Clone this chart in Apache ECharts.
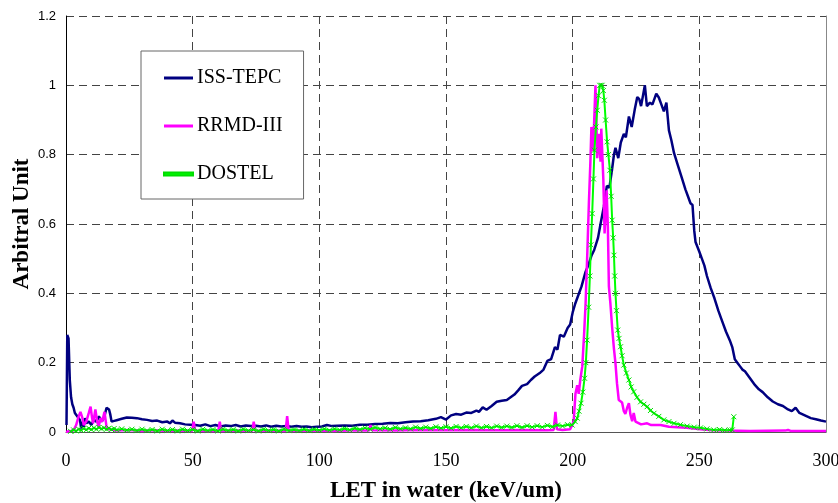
<!DOCTYPE html>
<html>
<head>
<meta charset="utf-8">
<script src="https://cdn.jsdelivr.net/npm/echarts@6/dist/echarts.min.js"></script>
<style>
  html, body { margin: 0; padding: 0; background: #fff; }
  #chart { width: 838px; height: 503px; }
</style>
</head>
<body>
<div id="chart"></div>
<script>
// LET values (keV/um) paired with arbitrary-unit intensity
var tepcPoints = [
  [0.2, 0.02], [0.5, 0.28], [1, 0.27], [1.5, 0.15], [2, 0.1], [2.5, 0.08], [3, 0.07], [3.5, 0.055],
  [4, 0.05], [4.5, 0.045], [5, 0.05], [5.5, 0.035], [6, 0.01], [6.5, 0.03], [7, 0.015], [7.5, 0.04],
  [8, 0.025], [9, 0.03], [10, 0.02], [11, 0.035], [12, 0.03], [13, 0.045], [14, 0.03], [15, 0.04],
  [16, 0.07], [17, 0.065], [17.5, 0.05], [18, 0.03], [19, 0.032], [20, 0.034], [22, 0.038], [24, 0.042],
  [26, 0.041], [28, 0.04], [30, 0.037], [32, 0.035], [34, 0.032], [36, 0.033], [38, 0.028], [40, 0.03],
  [41, 0.025], [42, 0.033], [43, 0.027], [45, 0.025], [47, 0.022], [49, 0.021], [51, 0.02], [53, 0.018],
  [55, 0.022], [57, 0.017], [59, 0.02], [61, 0.016], [63, 0.019], [65, 0.017], [67, 0.02], [69, 0.016],
  [71, 0.019], [73, 0.017], [75, 0.018], [77, 0.016], [79, 0.019], [81, 0.015], [83, 0.018], [85, 0.016],
  [87, 0.017], [89, 0.015], [91, 0.017], [93, 0.015], [95, 0.016], [97, 0.014], [99, 0.015], [101, 0.016],
  [103, 0.02], [105, 0.017], [107, 0.018], [110, 0.019], [113, 0.018], [116, 0.021], [119, 0.021], [122, 0.023],
  [125, 0.024], [128, 0.026], [131, 0.025], [134, 0.028], [137, 0.03], [140, 0.031], [143, 0.034], [146, 0.038],
  [148, 0.043], [150, 0.036], [152, 0.048], [154, 0.052], [156, 0.05], [158, 0.056], [160, 0.055], [162, 0.062],
  [163, 0.058], [164.5, 0.071], [166, 0.064], [168, 0.075], [170, 0.087], [172, 0.09], [174, 0.092], [175.5, 0.1],
  [177, 0.108], [178.5, 0.12], [180, 0.133], [182, 0.138], [183.5, 0.15], [185, 0.16], [187, 0.17], [188.5, 0.18],
  [190, 0.205], [191.5, 0.21], [193, 0.245], [194, 0.238], [195, 0.28], [196.5, 0.275], [198, 0.3], [199, 0.31],
  [200, 0.345], [201, 0.37], [202, 0.39], [203.5, 0.42], [205, 0.46], [206, 0.478], [207.5, 0.51], [208.5, 0.525],
  [210, 0.56], [211, 0.6], [212.3, 0.65], [213.5, 0.71], [214.5, 0.705], [215.5, 0.755], [216.3, 0.8], [216.9, 0.82],
  [218, 0.79], [219, 0.835], [220.2, 0.86], [221, 0.85], [222.2, 0.91], [223.3, 0.88], [224.5, 0.93], [225.5, 0.966],
  [226.3, 0.96], [227, 0.94], [228.5, 1.0], [229.3, 0.94], [230.5, 0.95], [231.5, 0.945], [233, 0.976], [234, 0.965],
  [235, 0.945], [236, 0.925], [237, 0.95], [238, 0.87], [239, 0.84], [240, 0.805], [241.5, 0.77], [243, 0.735],
  [244.5, 0.7], [245.5, 0.68], [246.5, 0.66], [247.3, 0.655], [248, 0.58], [248.5, 0.548], [250, 0.52], [251, 0.5],
  [252, 0.48], [253, 0.45], [254.5, 0.415], [256, 0.385], [257.5, 0.35], [259, 0.32], [260.5, 0.29], [262, 0.265],
  [263, 0.245], [264, 0.21], [265, 0.2], [266, 0.19], [267, 0.18], [268, 0.175], [269, 0.165], [270.5, 0.15],
  [272, 0.135], [273.5, 0.123], [275, 0.115], [277, 0.1], [279, 0.088], [281, 0.08], [283, 0.075], [285, 0.065],
  [286.5, 0.06], [288, 0.07], [289.5, 0.055], [291, 0.05], [292.5, 0.045], [294, 0.04], [296, 0.037], [298, 0.033],
  [300, 0.03]
];

var rrmdPoints = [
  [0, 0], [1, 0.002], [2, 0.003], [3, 0.005], [4, 0.02], [5, 0.045], [5.7, 0.058], [6.5, 0.04],
  [7, 0.02], [8, 0.03], [9, 0.055], [9.7, 0.073], [10.3, 0.04], [10.7, 0.025], [11.6, 0.065], [12.3, 0.03],
  [12.9, 0.015], [13.6, 0.04], [14.3, 0.03], [15.2, 0.058], [16, 0.015], [17, 0.008], [20, 0.004], [25, 0.006],
  [30, 0.003], [35, 0.005], [40, 0.003], [45, 0.004], [49.8, 0.003], [50.4, 0.03], [51, 0.004], [55, 0.003],
  [60.1, 0.003], [60.7, 0.03], [61.3, 0.003], [67, 0.004], [73.5, 0.003], [74.1, 0.03], [74.7, 0.003], [80, 0.004],
  [86.7, 0.003], [87.3, 0.046], [87.9, 0.003], [95, 0.004], [105, 0.003], [112, 0.004], [119.6, 0.004], [120.2, 0.02],
  [120.8, 0.005], [130, 0.004], [140, 0.006], [150, 0.005], [160, 0.006], [170, 0.005], [180, 0.006], [190, 0.005],
  [192.5, 0.006], [193.2, 0.058], [193.8, 0.008], [196, 0.006], [199, 0.008], [200.4, 0.03], [201.1, 0.11], [201.8, 0.135],
  [202.4, 0.11], [203, 0.15], [203.8, 0.19], [204.5, 0.28], [205.1, 0.37], [205.8, 0.52], [206.4, 0.66], [207, 0.78],
  [207.4, 0.88], [208.1, 0.81], [208.6, 0.92], [209, 1.0], [209.7, 0.79], [210.3, 0.86], [211, 0.78], [211.3, 0.875],
  [212.1, 0.73], [212.6, 0.573], [213.4, 0.697], [213.9, 0.59], [214.3, 0.42], [214.9, 0.37], [215.6, 0.3], [216.3, 0.24],
  [216.9, 0.198], [217.5, 0.14], [218.2, 0.092], [219.5, 0.085], [220.2, 0.06], [220.8, 0.052], [221.5, 0.07], [222.2, 0.083],
  [222.8, 0.05], [223.5, 0.031], [224.1, 0.055], [224.8, 0.03], [225.4, 0.03], [227, 0.022], [229.4, 0.025], [231, 0.02],
  [234.7, 0.02], [238, 0.015], [241.3, 0.014], [245, 0.012], [250.5, 0.008], [255, 0.005], [260, 0.004], [270, 0.003],
  [284, 0.004], [285, 0.006], [286, 0.003], [300, 0.003]
];

var dostelPoints = [
  [1.8, 0.002], [3, 0.006], [4, 0.003], [5, 0.008], [6, 0.005], [7, 0.01], [8, 0.006], [9, 0.011],
  [10, 0.007], [11, 0.012], [12, 0.008], [13, 0.013], [14, 0.009], [15, 0.012], [16, 0.008], [17, 0.011],
  [18, 0.007], [19, 0.01], [20, 0.006], [22, 0.009], [24, 0.005], [26, 0.008], [28, 0.004], [30, 0.008],
  [32, 0.004], [34, 0.007], [36, 0.003], [38, 0.008], [40, 0.004], [42, 0.007], [44, 0.003], [46, 0.008],
  [48, 0.004], [50, 0.007], [52, 0.003], [54, 0.008], [56, 0.004], [58, 0.007], [60, 0.003], [62, 0.008],
  [64, 0.004], [66, 0.007], [68, 0.003], [70, 0.008], [72, 0.004], [74, 0.007], [76, 0.003], [78, 0.008],
  [80, 0.004], [82, 0.007], [84, 0.003], [86, 0.008], [88, 0.004], [90, 0.007], [92, 0.004], [94, 0.008],
  [96, 0.004], [98, 0.008], [100, 0.005], [102, 0.009], [104, 0.005], [106, 0.009], [108, 0.006], [110, 0.01],
  [112, 0.006], [114, 0.011], [116, 0.007], [118, 0.012], [120, 0.008], [122, 0.013], [124, 0.009], [126, 0.012],
  [128, 0.008], [130, 0.013], [132, 0.009], [134, 0.012], [136, 0.009], [138, 0.014], [140, 0.01], [142, 0.014],
  [144, 0.01], [146, 0.015], [148, 0.011], [150, 0.015], [152, 0.011], [154, 0.016], [156, 0.012], [158, 0.016],
  [160, 0.012], [162, 0.017], [164, 0.012], [166, 0.016], [168, 0.012], [170, 0.017], [172, 0.013], [174, 0.017],
  [176, 0.013], [178, 0.018], [180, 0.013], [182, 0.018], [184, 0.014], [186, 0.018], [188, 0.014], [190, 0.019],
  [192, 0.015], [194, 0.02], [196, 0.017], [198, 0.021], [199.8, 0.02], [201, 0.03], [201.8, 0.04], [202.5, 0.06],
  [203.3, 0.083], [204, 0.115], [204.7, 0.155], [205.2, 0.2], [205.7, 0.265], [206.3, 0.36], [206.8, 0.45], [207.2, 0.54],
  [207.7, 0.63], [208.2, 0.73], [208.6, 0.813], [209.2, 0.88], [209.7, 0.928], [210.2, 0.97], [210.7, 1.0], [211.2, 1.0],
  [211.6, 1.0], [212.1, 0.985], [212.5, 0.957], [213, 0.9], [213.6, 0.837], [214.1, 0.8], [214.7, 0.755], [215.2, 0.68],
  [215.6, 0.611], [216, 0.56], [216.3, 0.51], [216.6, 0.45], [216.9, 0.4], [217.3, 0.35], [217.8, 0.294], [218.3, 0.27],
  [218.9, 0.246], [219.5, 0.22], [220.2, 0.193], [221.2, 0.17], [222.2, 0.15], [223.1, 0.13], [224.1, 0.116], [225.4, 0.1],
  [226.8, 0.087], [228.1, 0.08], [229.4, 0.073], [230.7, 0.062], [232.1, 0.054], [234, 0.045], [236, 0.035], [238, 0.03],
  [240, 0.025], [242.5, 0.021], [245.2, 0.017], [248, 0.014], [250.5, 0.012], [253, 0.009], [255.7, 0.006], [258, 0.007],
  [260, 0.005], [262, 0.006], [263, 0.006], [263.6, 0.044]
];

var seriesNames = ['ISS-TEPC', 'RRMD-III', 'DOSTEL'];

var crossMark = 'path://M0,0L10,10M10,0L0,10';

var myChart = echarts.init(document.getElementById('chart'));
var option = {
  animation: false,
  backgroundColor: '#fff',
  grid: {
    left: 66,
    right: 12,
    top: 16,
    bottom: 71,
    outerBoundsMode: 'none'
  },
  legend: {
    data: seriesNames.map(function (n) { return { name: n, icon: 'rect' }; }),
    orient: 'vertical',
    left: 141,
    top: 51,
    itemWidth: 29,
    itemHeight: 3,
    itemGap: 28,
    padding: [17, 21, 15, 22],
    backgroundColor: '#fff',
    borderColor: '#666',
    borderWidth: 1,
    textStyle: {
      fontFamily: 'Liberation Serif',
      fontSize: 20,
      color: '#000',
      padding: [0, 0, 0, -1]
    }
  },
  xAxis: {
    type: 'value',
    min: 0,
    max: 300,
    interval: 50,
    name: 'LET in water (keV/um)',
    nameLocation: 'middle',
    nameGap: 48,
    nameMoveOverlap: false,
    nameTextStyle: {
      fontFamily: 'Liberation Serif',
      fontWeight: 'bold',
      fontSize: 23,
      color: '#000'
    },
    axisLine: { onZero: false, lineStyle: { color: '#555', width: 1 } },
    axisTick: { show: false },
    axisLabel: {
      margin: 20,
      fontFamily: 'Liberation Serif',
      fontSize: 18,
      color: '#000'
    },
    splitLine: {
      show: true,
      lineStyle: { color: '#444', type: [8, 5], width: 1 }
    }
  },
  yAxis: [
    {
      type: 'value',
      min: 0,
      max: 1.2,
      interval: 0.2,
      name: 'Arbitral Unit',
      nameLocation: 'middle',
      nameGap: 32,
      nameMoveOverlap: false,
      nameTextStyle: {
        fontFamily: 'Liberation Serif',
        fontWeight: 'bold',
        fontSize: 23,
        color: '#000'
      },
      axisLine: { show: true, lineStyle: { color: '#000', width: 1 } },
      axisTick: { show: false },
      axisLabel: {
        margin: 10,
        fontFamily: 'Liberation Sans',
        fontSize: 13,
        color: '#000'
      },
      splitLine: {
        show: true,
        lineStyle: { color: '#444', type: [8, 5], width: 1 }
      }
    },
    {
      type: 'value',
      position: 'right',
      min: 0,
      max: 1.2,
      interval: 0.2,
      axisLine: { show: true, lineStyle: { color: '#888', width: 1 } },
      axisTick: { show: false },
      axisLabel: { show: false },
      splitLine: { show: false }
    }
  ],
  series: [
    {
      name: seriesNames[0],
      type: 'line',
      data: tepcPoints,
      symbol: 'none',
      lineStyle: { color: '#000080', width: 2.5 },
      itemStyle: { color: '#000080' },
      z: 3
    },
    {
      name: seriesNames[1],
      type: 'line',
      data: rrmdPoints,
      symbol: 'none',
      lineStyle: { color: '#ff00ff', width: 2.5 },
      itemStyle: { color: '#ff00ff' },
      z: 4
    },
    {
      name: seriesNames[2],
      type: 'line',
      data: dostelPoints,
      symbol: crossMark,
      symbolSize: 5,
      showAllSymbol: true,
      lineStyle: { color: '#00ff00', width: 2 },
      itemStyle: { color: '#00ff00', borderColor: '#00dd00', borderWidth: 1 },
      z: 5
    }
  ]
};
myChart.setOption(option);
</script>
</body>
</html>
